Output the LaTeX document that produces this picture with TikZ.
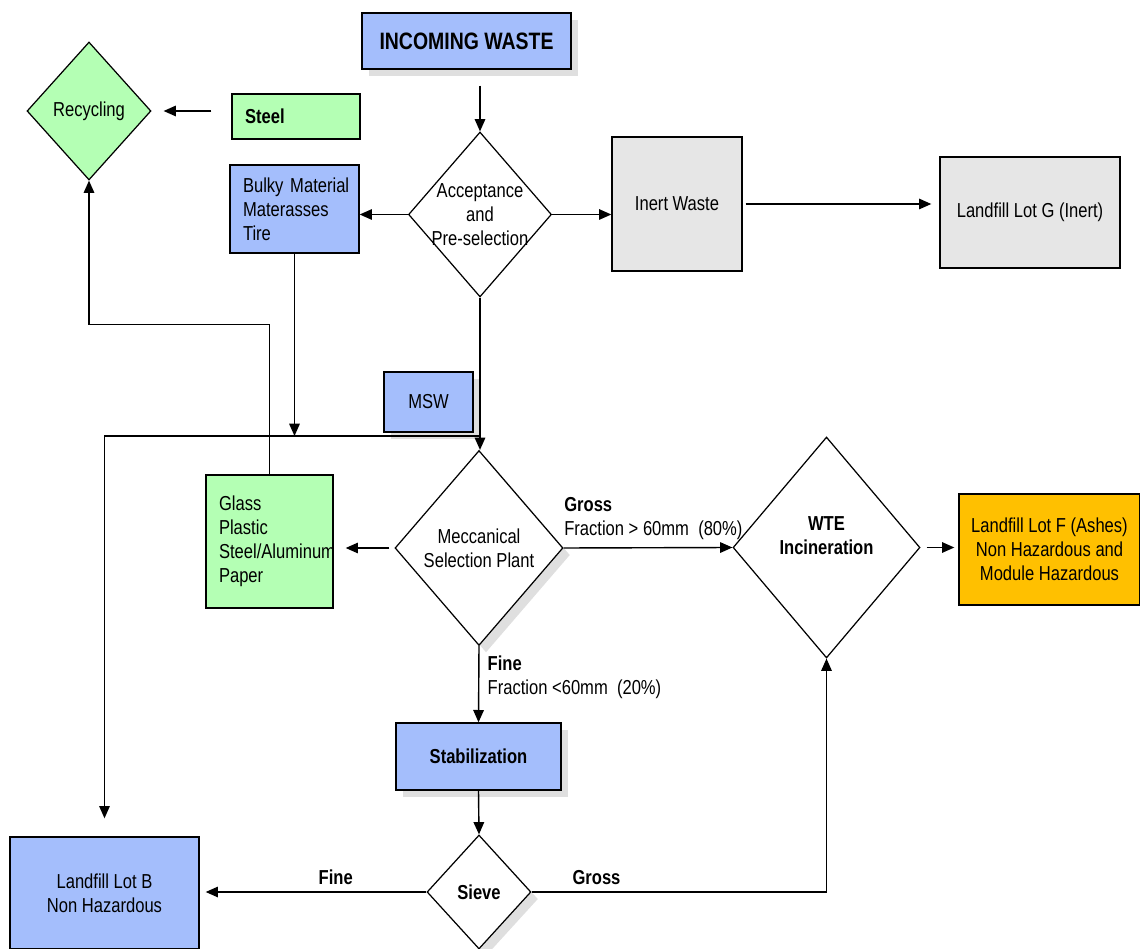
\documentclass[tikz,border=0pt]{standalone}
\usepackage{fontspec}
\setmainfont{Liberation Sans}[FakeStretch=0.82]
\usetikzlibrary{shapes.geometric,arrows.meta,shadows}

\definecolor{azul}{RGB}{164,190,252}
\definecolor{verde}{RGB}{180,255,180}
\definecolor{gris}{RGB}{230,230,230}
\definecolor{naranja}{RGB}{255,192,0}

\tikzset{
  caja/.style={draw, line width=0.8pt, inner sep=0pt, align=center},
  cajaizq/.style={caja, inner xsep=0.26cm, align=left},
  rombo/.style={draw, diamond, line width=0.7pt, inner sep=0pt, align=center, fill=white},
  flecha/.style={line width=0.8pt, -{Triangle[length=7pt,width=6pt]}},
  sombra/.style={drop shadow={opacity=0.25, shadow xshift=4pt, shadow yshift=-4pt}}
}

\begin{document}
\fontsize{11.5}{13.6}\selectfont
\begin{tikzpicture}[x=0.02cm, y=-0.02cm]
\useasboundingbox (0,0) rectangle (1140,949);

% Cajas de entrada y preselección
\node[caja, sombra, fill=azul, minimum width=4.18cm, minimum height=1.12cm,
      font=\fontsize{13.5}{15}\selectfont\bfseries] (inc) at (466.5,41) {INCOMING WASTE};
\node[rombo, inner sep=-3pt, minimum width=2.86cm, minimum height=3.30cm] (acc) at (480,214.5)
      {Acceptance\\and\\Pre-selection};
\node[cajaizq, fill=azul, text width=2.06cm, minimum height=1.76cm] (bulky) at (294.5,209)
      {\mbox{Bulky Material}\\Materasses\\Tire};
\node[cajaizq, fill=verde, text width=2.04cm, minimum height=0.90cm, font=\bfseries] (steel) at (296,116.5)
      {Steel};
\node[rombo, fill=verde, minimum width=2.48cm, minimum height=2.76cm] (rec) at (89,111) {Recycling};
\node[caja, fill=gris, minimum width=2.60cm, minimum height=2.68cm] (inert) at (677,204) {Inert Waste};
\node[caja, fill=gris, minimum width=3.60cm, minimum height=2.22cm] (lotg) at (1030,212.5)
      {Landfill Lot G (Inert)};

% Selección mecánica
\node[caja, sombra, fill=azul, minimum width=1.78cm, minimum height=1.20cm] (msw) at (428.5,402) {MSW};
\node[cajaizq, fill=verde, text width=2.02cm, minimum height=2.66cm] (glass) at (269.5,541.5)
      {Glass\\Plastic\\\mbox{Steel/Aluminum}\\Paper};
\node[rombo, sombra, minimum width=3.36cm, minimum height=3.90cm] (mec) at (479,548)
      {Meccanical\\Selection Plant};
\node[rombo, minimum width=3.74cm, minimum height=4.42cm, font=\bfseries] (wte) at (826.5,547.5)
      {WTE\\Incineration\\\mbox{}};
\node[caja, fill=naranja, minimum width=3.62cm, minimum height=2.22cm] (lotf) at (1049.5,549.5)
      {Landfill Lot F (Ashes)\\Non Hazardous and\\Module Hazardous};

% Estabilización y criba
\node[caja, sombra, fill=azul, minimum width=3.30cm, minimum height=1.34cm, font=\bfseries] (stab)
      at (478.5,756.5) {Stabilization};
\node[rombo, sombra, minimum width=2.08cm, minimum height=2.28cm, font=\bfseries] (sieve) at (479,892) {Sieve};
\node[caja, fill=azul, minimum width=3.78cm, minimum height=2.24cm] (lotb) at (104.5,893)
      {Landfill Lot B\\Non Hazardous};

\coordinate (nudo) at (480,436);

% Flechas superiores
\draw[flecha, shorten <=0.32cm] (inc.south -| acc.north) -- (acc.north);
\draw[flecha] (acc.west) -- (acc.west -| bulky.east);
\draw[flecha] (acc.east) -- (acc.east -| inert.west);
\draw[flecha, shorten <=0.06cm, shorten >=0.16cm] (inert.east) -- (inert.east -| lotg.west);
\draw[flecha, shorten <=0.4cm, shorten >=0.24cm] (rec.east -| steel.west) -- (rec.east);
\draw[flecha] (glass.north) -- ++(0,-150) -| (rec.south);
\draw[flecha] (bulky.south) -- (bulky.south |- nudo);
\draw[flecha] (acc.south) -- (acc.south |- mec.north);
\draw[flecha, shorten >=0.36cm] (nudo) -| (lotb.north);

% Flechas de la planta
\draw[flecha, shorten <=0.1cm, shorten >=0.24cm] (mec.west) -- (mec.west -| glass.east);
\draw[flecha] (mec.east) -- (wte.west)
  node[pos=0, anchor=south west, align=left, inner sep=0pt, yshift=0.16cm]
  {\textbf{Gross}\\Fraction > 60mm\ \ (80\%)};
\draw[flecha, shorten <=0.12cm, shorten >=0.08cm] (wte.east) -- (wte.east -| lotf.west);
\draw[flecha] (mec.south) -- (stab.north)
  node[pos=0, anchor=north west, align=left, inner sep=0pt, xshift=0.16cm, yshift=-0.18cm]
  {\textbf{Fine}\\Fraction <60mm\ \ (20\%)};
\draw[flecha] (stab.south) -- (sieve.north);
\draw[flecha, shorten >=0.12cm] (sieve.west) -- (sieve.west -| lotb.east)
  node[pos=0.4, above, font=\bfseries] {Fine};
\draw[flecha] (sieve.east) -| (wte.south)
  node[pos=0.11, above, font=\bfseries] {Gross};
\end{tikzpicture}
\end{document}
